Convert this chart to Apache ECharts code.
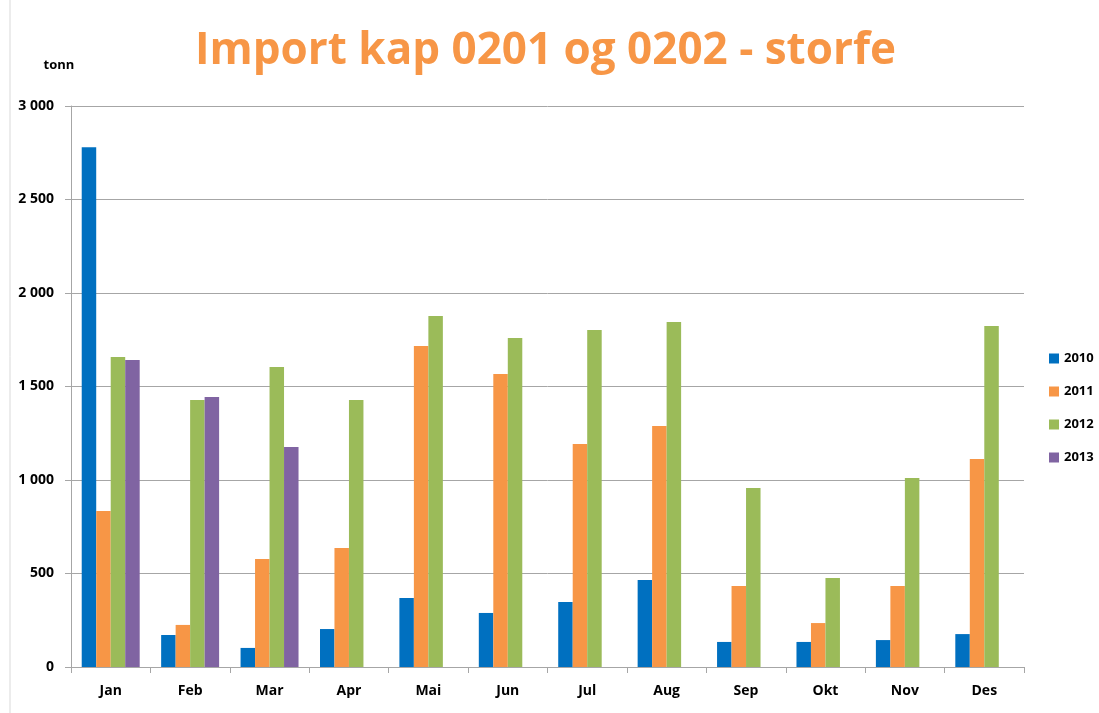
<!DOCTYPE html>
<html>
<head>
<meta charset="utf-8">
<script src="https://cdn.jsdelivr.net/npm/echarts@6/dist/echarts.min.js"></script>
<style>
  html, body { margin: 0; padding: 0; background: #fff; }
  #chart { width: 1099px; height: 713px; }
</style>
</head>
<body>
<div id="chart"></div>
<script>
var months = ['Jan', 'Feb', 'Mar', 'Apr', 'Mai', 'Jun', 'Jul', 'Aug', 'Sep', 'Okt', 'Nov', 'Des'];
var years = ['2010', '2011', '2012', '2013'];
var v2010 = [2780, 171, 102, 203, 369, 289, 348, 465, 134, 134, 144, 176];
var v2011 = [834, 225, 578, 636, 1717, 1567, 1193, 1289, 433, 235, 433, 1112];
var v2012 = [1658, 1428, 1604, 1428, 1877, 1759, 1802, 1845, 957, 476, 1011, 1824];
var v2013 = [1642, 1444, 1176, null, null, null, null, null, null, null, null, null];
var colors = ['#0070C0', '#F79646', '#9BBB59', '#8064A2'];

var chart = echarts.init(document.getElementById('chart'));

function fmt(v) {
  return String(v).replace(/\B(?=(\d{3})+(?!\d))/g, ' ');
}

var allValues = [v2010, v2011, v2012, v2013];
var series = years.map(function (y, i) {
  return {
    name: y,
    type: 'bar',
    data: allValues[i],
    barGap: '0%',
    barCategoryGap: '27%',
    itemStyle: { color: colors[i] }
  };
});

chart.setOption({
  animation: false,
  color: colors,
  title: {
    text: 'Import kap 0201 og 0202 - storfe',
    left: 190,
    top: 24,
    textStyle: {
      color: '#F79646',
      fontFamily: 'Open Sans',
      fontWeight: 'bold',
      fontSize: 44
    }
  },
  legend: {
    orient: 'vertical',
    left: 1044,
    top: 347,
    itemWidth: 10,
    itemHeight: 10,
    itemGap: 20,
    icon: 'rect',
    textStyle: { fontFamily: 'Open Sans', fontWeight: 'bold', fontSize: 13, color: '#000' },
    data: years
  },
  grid: { left: 71, right: 75, top: 106, bottom: 46 },
  graphic: [{
    type: 'line',
    shape: { x1: 10, y1: 0, x2: 10, y2: 713 },
    style: { stroke: '#d9d9d9', lineWidth: 1 }
  }],
  xAxis: {
    type: 'category',
    data: months,
    axisLine: { lineStyle: { color: '#a6a6a6' } },
    axisTick: { show: true, length: 6, lineStyle: { color: '#a6a6a6' } },
    axisLabel: {
      margin: 17,
      color: '#000',
      fontFamily: 'Open Sans',
      fontWeight: 'bold',
      fontSize: 14
    }
  },
  yAxis: {
    type: 'value',
    min: 0,
    max: 3000,
    interval: 500,
    name: 'tonn',
    nameLocation: 'end',
    nameGap: 34,
    nameTextStyle: { color: '#000', fontFamily: 'Open Sans', fontWeight: 'bold', fontSize: 13, align: 'center', padding: [0, 24, 0, 0] },
    axisLine: { show: true, lineStyle: { color: '#a6a6a6' } },
    axisTick: { show: true, length: 6, lineStyle: { color: '#a6a6a6' } },
    splitLine: { lineStyle: { color: '#a6a6a6' } },
    axisLabel: {
      margin: 17,
      color: '#000',
      fontFamily: 'Open Sans',
      fontWeight: 'bold',
      fontSize: 14,
      formatter: fmt
    }
  },
  series: series
});
</script>
</body>
</html>
